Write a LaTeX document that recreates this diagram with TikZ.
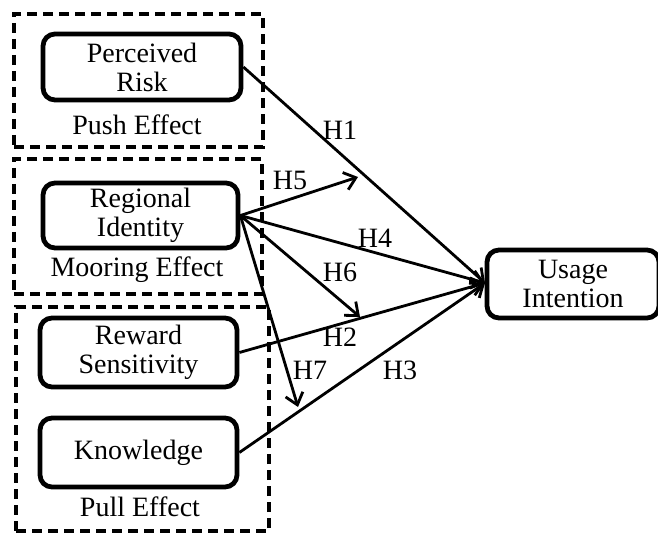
\documentclass[tikz,border=0pt]{standalone}
\usepackage{fontspec}
\setmainfont{Liberation Serif}
\usetikzlibrary{arrows.meta}
\begin{document}
\begin{tikzpicture}[x=1pt,y=-1pt,
  grp/.style={draw,dash pattern=on 10pt off 6pt,line width=3.2pt,inner sep=0pt},
  cbox/.style={draw,rounded corners=12pt,line width=4.8pt,align=center,inner sep=0pt,font=\fontsize{28}{29}\selectfont},
  lab/.style={font=\fontsize{28}{29}\selectfont,inner sep=0pt},
  arr/.style={line width=2.8pt,-{Straight Barb[length=11pt,width=18pt,line width=2.8pt]}}]
\useasboundingbox (0,0) rectangle (658,534);
% groups
\node[grp,minimum width=249pt,minimum height=133pt] (push) at (138.5,80.5) {};
\node[grp,minimum width=248pt,minimum height=135pt] (moor) at (138,226.5) {};
\node[grp,minimum width=253pt,minimum height=224pt] (pull) at (142.5,419) {};
\node[lab] (pushl) at (137,125) {Push Effect};
\node[lab] (moorl) at (137,270) {Mooring Effect};
\node[lab] (pulll) at (140,507) {Pull Effect};
% constructs
\node[cbox,minimum width=198pt,minimum height=66pt] (pr) at (142,67) {Perceived\\Risk};
\node[cbox,minimum width=195pt,minimum height=65pt] (ri) at (140.5,215.5) {Regional\\Identity};
\node[cbox,minimum width=197pt,minimum height=69pt] (rs) at (138.5,352.5) {Reward\\Sensitivity};
\node[cbox,minimum width=197pt,minimum height=69pt] (kn) at (138.5,452.5) {Knowledge};
\node[cbox,minimum width=172pt,minimum height=68pt] (ui) at (573,284) {Usage\\Intention};
% arrow end points
\coordinate (t) at (485,283);
\coordinate (h5e) at (358,177);
\coordinate (h6e) at (360,317);
\coordinate (h7e) at (298,407);
% connectors
\draw[arr] (pr.east) -- (t);
\draw[arr] (ri.east) -- (t);
\draw[arr] (rs.east) -- (t);
\draw[arr] (kn.east) -- (t);
\draw[arr] (ri.east) -- (h5e);
\draw[arr] (ri.east) -- (h6e);
\draw[arr] (ri.east) -- (h7e);
% labels
\node[lab] (l1) at (340,130) {H1};
\node[lab] (l5) at (290,180) {H5};
\node[lab] (l4) at (375,238) {H4};
\node[lab] (l6) at (340,272) {H6};
\node[lab] (l2) at (340,337) {H2};
\node[lab] (l7) at (310,370) {H7};
\node[lab] (l3) at (400,370) {H3};
\end{tikzpicture}
\end{document}
